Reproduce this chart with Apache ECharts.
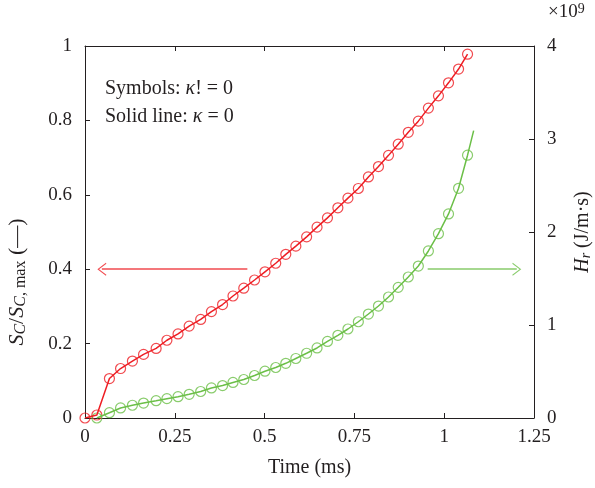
<!DOCTYPE html>
<html>
<head>
<meta charset="utf-8">
<script src="https://cdn.jsdelivr.net/npm/echarts@6/dist/echarts.min.js"></script>
<style>
  html, body { margin: 0; background: #fff; }
  #chart { width: 595px; height: 488px; }
</style>
</head>
<body>
<div id="chart"></div>
<script>
// time (ms) of each computed point
const times = [0, 0.033, 0.068, 0.099, 0.132, 0.163, 0.198, 0.228, 0.259, 0.290, 0.322, 0.352,
  0.383, 0.412, 0.442, 0.472, 0.501, 0.531, 0.559, 0.587, 0.617, 0.646, 0.675, 0.704, 0.732,
  0.761, 0.789, 0.817, 0.845, 0.872, 0.900, 0.928, 0.956, 0.984, 1.012, 1.040, 1.065];
// S_C / S_C,max (left axis)
const scRatio = [0, 0.008, 0.106, 0.133, 0.153, 0.171, 0.187, 0.209, 0.226, 0.247, 0.265, 0.286,
  0.305, 0.328, 0.349, 0.371, 0.393, 0.416, 0.440, 0.462, 0.487, 0.513, 0.538, 0.565, 0.591,
  0.617, 0.648, 0.676, 0.706, 0.736, 0.768, 0.798, 0.833, 0.866, 0.901, 0.938, 0.978];
// H_r in 1e9 J/m.s (right axis), starts at times[1]
const hrRate = [0, 0.057, 0.108, 0.137, 0.161, 0.186, 0.208, 0.229, 0.255, 0.285, 0.323, 0.349,
  0.382, 0.414, 0.457, 0.503, 0.543, 0.588, 0.640, 0.696, 0.753, 0.823, 0.889, 0.957, 1.035,
  1.118, 1.204, 1.301, 1.405, 1.516, 1.634, 1.796, 1.982, 2.194, 2.470, 2.826];
// solid line (kappa = 0) of H_r runs a bit past the last symbol
const hrLineTail = [1.082, 3.09];
// arrows telling which axis belongs to which curve
const leftArrow = [[0.452, 0.4], [0.047, 0.4]];
const rightArrow = [[0.954, 1.6], [1.202, 1.6]];

const RED = '#ee1d23';
const GREEN = '#6bbf47';
const INK = '#231f20';
const FONT = '"Liberation Serif", "DejaVu Serif", serif';
// open chevron head, tip up
const CHEVRON = 'path://M13,0L26,17L24,18L13,3.5L2,18L0,17Z';

const scPts = times.map((t, i) => [t, scRatio[i]]);
const hrPts = hrRate.map((v, i) => [times[i + 1], v]);

const chart = echarts.init(document.getElementById('chart'));

const axisCommon = {
  axisLine: { show: true, onZero: false, lineStyle: { color: INK, width: 1 } },
  axisTick: { show: true, inside: true, length: 5, lineStyle: { color: INK } },
  splitLine: { show: false },
  axisLabel: { color: INK, fontFamily: FONT, fontSize: 19 },
};

const option = {
  animation: false,
  backgroundColor: '#fff',
  grid: { left: 85, right: 61, top: 46, bottom: 70, containLabel: false, outerBoundsMode: 'none' },
  xAxis: [
    Object.assign({}, axisCommon, {
      type: 'value', min: 0, max: 1.25, interval: 0.25, position: 'bottom',
      axisLabel: Object.assign({}, axisCommon.axisLabel, { margin: 10 }),
      name: 'Time (ms)', nameLocation: 'middle', nameGap: 40,
      nameTextStyle: { color: INK, fontFamily: FONT, fontSize: 20 },
    }),
    Object.assign({}, axisCommon, {
      type: 'value', min: 0, max: 1.25, interval: 0.25, position: 'top',
      axisLabel: { show: false },
    }),
  ],
  yAxis: [
    Object.assign({}, axisCommon, {
      type: 'value', min: 0, max: 1, interval: 0.2, position: 'left',
      axisLabel: Object.assign({}, axisCommon.axisLabel, { margin: 13 }),
      name: '{i|S}{isub|C}/{i|S}{isub|C}{sub|, max} (—)',
      nameLocation: 'middle', nameGap: 56, nameRotate: 90,
      nameTextStyle: {
        color: INK, fontFamily: FONT, fontSize: 22, padding: [0, 100, 0, 0],
        rich: {
          i: { fontStyle: 'italic', fontFamily: FONT, fontSize: 22, color: INK },
          isub: { fontStyle: 'italic', fontFamily: FONT, fontSize: 16, color: INK, verticalAlign: 'bottom', padding: [7, 0, 0, 0] },
          sub: { fontFamily: FONT, fontSize: 16, color: INK, verticalAlign: 'bottom', padding: [7, 0, 0, 0] },
        },
      },
    }),
    Object.assign({}, axisCommon, {
      type: 'value', min: 0, max: 4, interval: 1, position: 'right',
      axisLabel: Object.assign({}, axisCommon.axisLabel, { margin: 13 }),
      name: '{i|H}{isub|r} (J/m·s)',
      nameLocation: 'middle', nameGap: 38, nameRotate: 90,
      nameTextStyle: {
        color: INK, fontFamily: FONT, fontSize: 20,
        rich: {
          i: { fontStyle: 'italic', fontFamily: FONT, fontSize: 20, color: INK },
          isub: { fontStyle: 'italic', fontFamily: FONT, fontSize: 14, color: INK, verticalAlign: 'bottom', padding: [7, 0, 0, 0] },
        },
      },
    }),
  ],
  graphic: [
    {
      type: 'text', left: 548, top: 2,
      style: {
        text: '×10{sup|9}', fill: INK, font: '19px ' + FONT,
        rich: { sup: { fontFamily: FONT, fontSize: 14, fill: INK, verticalAlign: 'top', padding: [0, 0, 7, 0] } },
      },
    },
    {
      type: 'text', left: 105, top: 79,
      style: {
        text: 'Symbols: {i|κ}! = 0', fill: INK, font: '20px ' + FONT,
        rich: { i: { fontStyle: 'italic', fontFamily: FONT, fontSize: 20, fill: INK } },
      },
    },
    {
      type: 'text', left: 105, top: 107,
      style: {
        text: 'Solid line: {i|κ} = 0', fill: INK, font: '20px ' + FONT,
        rich: { i: { fontStyle: 'italic', fontFamily: FONT, fontSize: 20, fill: INK } },
      },
    },
  ],
  series: [
    {
      name: 'S symbols', type: 'scatter', xAxisIndex: 0, yAxisIndex: 0, data: scPts,
      symbol: 'circle', symbolSize: 10,
      itemStyle: { color: 'transparent', borderColor: RED, borderWidth: 1.2 },
      silent: true,
    },
    {
      name: 'S line', type: 'line', xAxisIndex: 0, yAxisIndex: 0, data: scPts,
      showSymbol: false, lineStyle: { color: RED, width: 1.5 }, silent: true,
      markLine: {
        silent: true, symbol: ['none', CHEVRON], symbolSize: [13, 9],
        label: { show: false },
        lineStyle: { color: RED, width: 1.5, type: 'solid', opacity: 0.8 },
        data: [[{ coord: leftArrow[0] }, { coord: leftArrow[1] }]],
      },
    },
    {
      name: 'H symbols', type: 'scatter', xAxisIndex: 0, yAxisIndex: 1, data: hrPts,
      symbol: 'circle', symbolSize: 10,
      itemStyle: { color: 'transparent', borderColor: GREEN, borderWidth: 1.2 },
      silent: true,
    },
    {
      name: 'H line', type: 'line', xAxisIndex: 0, yAxisIndex: 1, data: hrPts.concat([hrLineTail]),
      showSymbol: false, lineStyle: { color: GREEN, width: 1.5 }, silent: true,
      markLine: {
        silent: true, symbol: ['none', CHEVRON], symbolSize: [13, 9],
        label: { show: false },
        lineStyle: { color: GREEN, width: 1.5, type: 'solid', opacity: 0.8 },
        data: [[{ coord: rightArrow[0] }, { coord: rightArrow[1] }]],
      },
    },
  ],
};

chart.setOption(option);
</script>
</body>
</html>
